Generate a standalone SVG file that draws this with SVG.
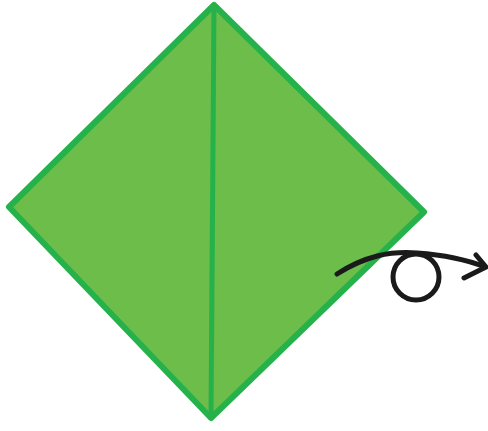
<svg xmlns="http://www.w3.org/2000/svg" width="488" height="431" viewBox="0 0 488 431">
<style>
.paper{fill:#6dbd4b;stroke:#26b24a;stroke-width:6;stroke-linejoin:round}
.crease{stroke:#26b24a;stroke-width:5;fill:none;stroke-linecap:round}
.ink{fill:none;stroke:#1a1a1a;stroke-width:5;stroke-linecap:round;stroke-linejoin:round}
</style>
<rect width="488" height="431" fill="#ffffff"/>
<g id="paper">
<polygon class="paper" points="214,5 424,212 211,418 9,207"/>
<line class="crease" x1="214" y1="6" x2="211" y2="416"/>
</g>
<g id="connectors">
<path class="ink" d="M337,274 C365,256 390,251 417,253 C445,255 465,259 485,267"/>
<circle class="ink" cx="416" cy="277" r="23"/>
<polyline class="ink" points="476,255 486,267 464,278"/>
</g>
</svg>
